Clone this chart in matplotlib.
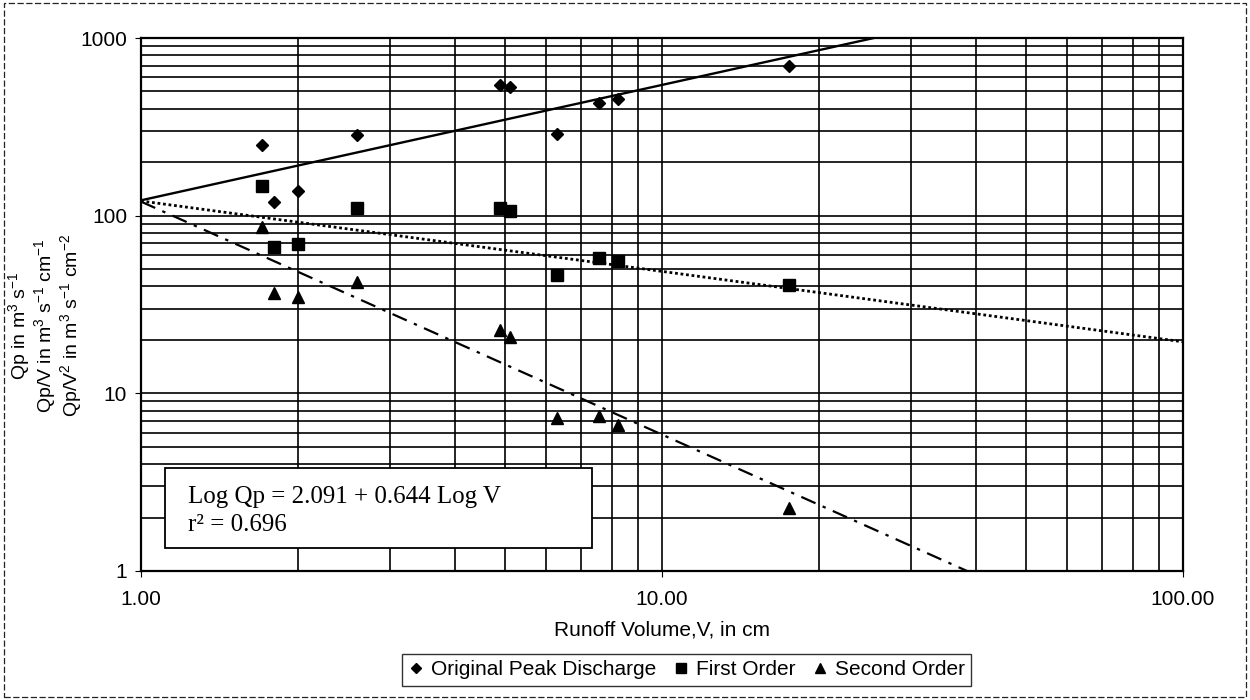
import matplotlib
matplotlib.use("Agg")
import matplotlib.pyplot as plt
from matplotlib.ticker import LogLocator, FixedLocator, NullFormatter
from matplotlib.lines import Line2D
from matplotlib.patches import Rectangle

plt.rcParams["font.family"] = ["Liberation Sans", "DejaVu Sans"]
plt.rcParams["mathtext.fontset"] = "custom"
plt.rcParams["mathtext.rm"] = "Liberation Sans"
plt.rcParams["mathtext.it"] = "Liberation Sans:italic"

# valores
volumen = [1.71, 1.80, 2.00, 2.60, 4.89, 5.11, 6.30, 7.58, 8.22, 17.5]
pico_original = [249, 120, 137, 284, 542, 533, 290, 433, 452, 696]
primer_orden = [147, 66.4, 69.3, 110, 111, 106, 46.6, 57.6, 55.9, 40.8]
segundo_orden = [86, 36.8, 34.8, 42.2, 22.6, 20.7, 7.27, 7.5, 6.6, 2.25]

# extremos de las lineas de tendencia
tend_orig_x, tend_orig_y = [1.0, 25.5], [122, 1000]
tend_1_x, tend_1_y = [1.0, 100.0], [121, 19.5]
tend_2_x, tend_2_y = [1.0, 38.5], [120, 1.0]

fig = plt.figure(figsize=(12.5, 7), dpi=100)
ax = fig.add_axes([0.1128, 0.1843, 0.8336, 0.7614])
ax.set_xscale("log")
ax.set_yscale("log")
ax.set_xlim(1, 100)
ax.set_ylim(1, 1000)

# cuadricula
ax.xaxis.set_major_locator(FixedLocator([1, 10, 100]))
ax.yaxis.set_major_locator(FixedLocator([1, 10, 100, 1000]))
ax.xaxis.set_minor_locator(LogLocator(base=10, subs=range(2, 10)))
ax.yaxis.set_minor_locator(LogLocator(base=10, subs=range(2, 10)))
ax.xaxis.set_minor_formatter(NullFormatter())
ax.yaxis.set_minor_formatter(NullFormatter())
ax.set_xticklabels(["1.00", "10.00", "100.00"])
ax.set_yticklabels(["1", "10", "100", "1000"])
ax.grid(True, which="both", color="black", linewidth=1.2)
ax.set_axisbelow(True)
ax.tick_params(which="minor", length=0)
ax.tick_params(axis="y", which="major", length=4, pad=6, labelsize=15)
ax.tick_params(axis="x", which="major", length=4, pad=10, labelsize=15)
for s in ax.spines.values():
    s.set_linewidth(1.6)
    s.set_color("black")

# lineas de tendencia
ax.plot(tend_orig_x, tend_orig_y, color="black", linewidth=1.7, linestyle="-")
ax.plot(tend_1_x, tend_1_y, color="black", linewidth=2.0, linestyle=(0, (1, 1)))
ax.plot(tend_2_x, tend_2_y, color="black", linewidth=1.6, linestyle=(0, (7, 3.5, 1.5, 3.5)))

# puntos
ax.plot(volumen, pico_original, "D", color="black", markersize=6.5, linestyle="none", zorder=4)
ax.plot(volumen, primer_orden, "s", color="black", markersize=8.5, linestyle="none", zorder=4)
ax.plot(volumen, segundo_orden, "^", color="black", markersize=8.5, linestyle="none", zorder=4)

# cuadro con la ecuacion
ax.add_patch(Rectangle((0.023, 0.043), 0.41, 0.15, transform=ax.transAxes,
                       facecolor="white", edgecolor="black", linewidth=1.3, zorder=3))
ax.text(0.045, 0.139, "Log Qp = 2.091 + 0.644 Log V", transform=ax.transAxes,
        family="Liberation Serif", fontsize=18, va="center", zorder=5)
ax.text(0.045, 0.086, "r² = 0.696", transform=ax.transAxes,
        family="Liberation Serif", fontsize=18, va="center", zorder=5)

# titulos de ejes
fig.text(0.5296, 0.10, "Runoff Volume,V, in cm", ha="center", va="center", fontsize=15)
fig.text(0.036, 0.535,
         "Qp in m$^{3}$ s$^{-1}$\nQp/V in m$^{3}$ s$^{-1}$ cm$^{-1}$\nQp/V$^{2}$ in m$^{3}$ s$^{-1}$ cm$^{-2}$",
         rotation=90, ha="center", va="center", multialignment="center", fontsize=14,
         linespacing=1.0)

# leyenda
handles = [
    Line2D([], [], marker="D", color="black", linestyle="none", markersize=5),
    Line2D([], [], marker="s", color="black", linestyle="none", markersize=6.5),
    Line2D([], [], marker="^", color="black", linestyle="none", markersize=6.5),
]
leg = fig.legend(handles, ["Original Peak Discharge", "First Order", "Second Order"],
                 loc="center", bbox_to_anchor=(0.549, 0.043), ncol=3, fontsize=15,
                 frameon=True, fancybox=False, edgecolor="black", handlelength=0.8,
                 handletextpad=0.3, columnspacing=0.8, borderpad=0.3)
leg.get_frame().set_linewidth(1.0)

# marco exterior
fig.patches.append(Rectangle((0.003, 0.004), 0.994, 0.992, transform=fig.transFigure,
                             fill=False, edgecolor="#222222", linewidth=0.9,
                             linestyle=(0, (5, 2))))

fig.savefig("out.png", dpi=100)
